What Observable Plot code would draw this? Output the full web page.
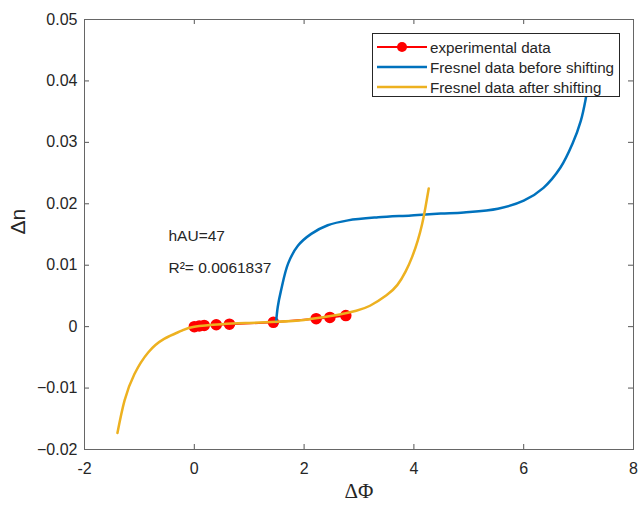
<!DOCTYPE html>
<html>
<head>
<meta charset="utf-8">
<script src="https://cdn.jsdelivr.net/npm/d3@7"></script>
<script src="https://cdn.jsdelivr.net/npm/@observablehq/plot@0.6"></script>
<style>
  html, body { margin: 0; padding: 0; background: #fff; }
  #wrap { position: relative; width: 640px; height: 508px; font-family: "Liberation Sans", Arial, sans-serif; }
  #legend { position: absolute; left: 372px; top: 33px; width: 248px; height: 64px; box-sizing: border-box;
    border: 1px solid #262626; background: #fff; font-size: 15.2px; color: #262626; }
  .row { position: absolute; left: 0; height: 20px; display: flex; align-items: center; white-space: nowrap; }
  .row svg { margin-left: 4px; margin-right: 3px; }
</style>
</head>
<body>
<div id="wrap"></div>
<script>
// ---- data ----
const expX = [0, 0.09, 0.18, 0.4, 0.64, 1.44, 2.22, 2.47, 2.76];
const expY = [0, 0.0001, 0.0002, 0.0003, 0.0004, 0.0007, 0.0013, 0.0015, 0.0018];

const beforeX = [1.49, 1.52, 1.58, 1.71, 1.89, 2.13, 2.43, 2.8, 3.35, 3.95, 4.49, 4.91, 5.53, 6.0, 6.36, 6.67, 6.89, 7.04, 7.13, 7.2, 7.27];
const beforeY = [0.0007, 0.0032, 0.0059, 0.0103, 0.0132, 0.0151, 0.0165, 0.0173, 0.0178, 0.0181, 0.0184, 0.0186, 0.0192, 0.0205, 0.0226, 0.0259, 0.0298, 0.0335, 0.0371, 0.041, 0.046];

const afterX = [-1.40, -1.27, -1.09, -0.84, -0.55, -0.24, 0, 0.5, 1.0, 1.5, 2.0, 2.31, 2.6, 2.95, 3.2, 3.5, 3.7, 3.85, 3.97, 4.07, 4.15, 4.21, 4.27];
const afterY = [-0.0173, -0.012, -0.0077, -0.0042, -0.002, -0.0007, 0, 0.0004, 0.0006, 0.0008, 0.0011, 0.0015, 0.0019, 0.0026, 0.0034, 0.0051, 0.0068, 0.009, 0.0114, 0.014, 0.0167, 0.0194, 0.0225];

const xTicks = [-2, 0, 2, 4, 6, 8];
const yTicks = [-0.02, -0.01, 0, 0.01, 0.02, 0.03, 0.04, 0.05];

const seriesNames = ["experimental data", "Fresnel data before shifting", "Fresnel data after shifting"];
const seriesColors = ["#FF0000", "#0072BD", "#EDB120"];

const annotations = ["hAU=47", "R\u00B2= 0.0061837"];
const annX = [-0.47, -0.47];
const annY = [0.0147, 0.0096];

// ---- build tables ----
const exp = expX.map((x, i) => ({x, y: expY[i]}));
const before = beforeX.map((x, i) => ({x, y: beforeY[i]}));
const after = afterX.map((x, i) => ({x, y: afterY[i]}));
const ann = annotations.map((t, i) => ({t, x: annX[i], y: annY[i]}));

const W = 640, H = 508;
const mL = 84, mR = 7, mT = 19, mB = 59;
const pw = W - mL - mR, ph = H - mT - mB;
const axisColor = "#262626";
const fontSans = "Liberation Sans, Arial, sans-serif";

const chart = Plot.plot({
  width: W, height: H,
  marginLeft: mL, marginRight: mR, marginTop: mT, marginBottom: mB,
  style: { fontFamily: fontSans, background: "#fff", overflow: "visible" },
  x: { domain: [-2, 8], ticks: xTicks },
  y: { domain: [-0.02, 0.05], ticks: yTicks },
  marks: [
    // tick labels
    Plot.axisX(xTicks, { tickSize: 0, tickPadding: 13, fontSize: 16, color: axisColor, label: null, tickFormat: d => String(d) }),
    Plot.axisY(yTicks, { tickSize: 0, tickPadding: 7, fontSize: 16, color: axisColor, label: null, tickFormat: d => d === 0 ? "0" : d3.format(".2f")(d) }),
    // inward ticks on all four sides
    Plot.tickX(xTicks, { x: d => d, insetTop: ph - 5, stroke: "#555", strokeWidth: 1 }),
    Plot.tickX(xTicks, { x: d => d, insetBottom: ph - 5, stroke: "#555", strokeWidth: 1 }),
    Plot.tickY(yTicks, { y: d => d, insetRight: pw - 5, stroke: "#555", strokeWidth: 1 }),
    Plot.tickY(yTicks, { y: d => d, insetLeft: pw - 5, stroke: "#555", strokeWidth: 1 }),
    Plot.frame({ stroke: "#666", strokeWidth: 1 }),
    // series
    Plot.line(exp, { x: "x", y: "y", stroke: seriesColors[0], strokeWidth: 2 }),
    Plot.dot(exp, { x: "x", y: "y", r: 5, fill: seriesColors[0], stroke: seriesColors[0] }),
    Plot.line(before, { x: "x", y: "y", stroke: seriesColors[1], strokeWidth: 2.5, curve: "catmull-rom", clip: true }),
    Plot.line(after, { x: "x", y: "y", stroke: seriesColors[2], strokeWidth: 2.5, curve: "natural" }),
    // annotations
    Plot.text(ann, { x: "x", y: "y", text: "t", textAnchor: "start", fontSize: 15.5, fill: axisColor }),
    // axis labels
    Plot.text(["\u0394\u03A6"], { frameAnchor: "bottom", dy: 48, fontSize: 21, fontFamily: "Liberation Serif, serif", fill: axisColor }),
    Plot.text(["\u0394n"], { frameAnchor: "left", dx: -66, rotate: -90, fontSize: 21, fontFamily: fontSans, fill: axisColor })
  ]
});

const wrap = document.getElementById("wrap");
wrap.appendChild(chart);

// legend overlay (inside the axes, top right, like the reference)
const legend = document.createElement("div");
legend.id = "legend";
const rowTops = [3, 23, 43];
seriesNames.forEach((name, i) => {
  const row = document.createElement("div");
  row.className = "row";
  row.style.top = rowTops[i] + "px";
  const sw = 50;
  let svg = `<svg width="${sw}" height="14"><line x1="0" x2="${sw}" y1="7" y2="7" stroke="${seriesColors[i]}" stroke-width="${i === 0 ? 2 : 2.5}"/>`;
  if (i === 0) svg += `<circle cx="${sw/2}" cy="7" r="5" fill="${seriesColors[i]}"/>`;
  svg += `</svg>`;
  row.innerHTML = svg + `<span>${name}</span>`;
  legend.appendChild(row);
});
wrap.appendChild(legend);
</script>
</body>
</html>
